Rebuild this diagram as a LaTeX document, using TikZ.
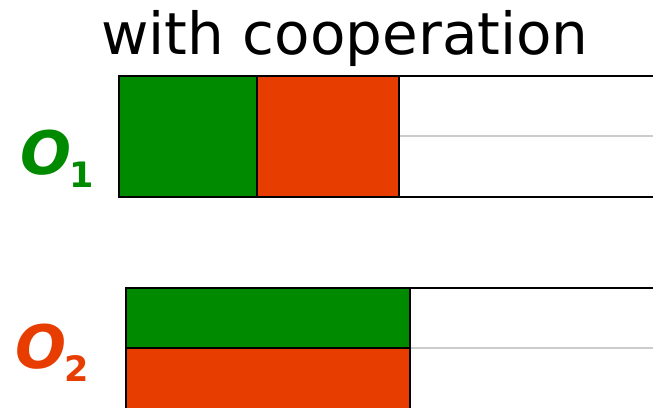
\documentclass[tikz,border=0pt]{standalone}
\usepackage{fontspec}
\setmainfont{DejaVu Sans}
\definecolor{ogreen}{RGB}{0,138,0}
\definecolor{ored}{RGB}{232,61,0}
% operator label: big slanted O with a lowered index
\newcommand{\oplabel}[1]{{\bfseries\itshape\fontsize{60}{60}\selectfont O}\kern-2pt\raisebox{-13pt}{\bfseries\fontsize{35}{35}\selectfont #1}}
\begin{document}
\begin{tikzpicture}[x=1pt,y=1pt,
                    frame/.style={draw=black,line width=2pt},
                    lane/.style={draw=black!20,line width=1.5pt},
                    tag/.style={anchor=base west,inner sep=0pt}
                   ]
   \useasboundingbox (0,0) rectangle (653,407);
   \clip (0,0) rectangle (653,407);
   \node[anchor=base,inner sep=0pt,font=\fontsize{58}{58}\selectfont] (title) at (345,352) {with cooperation};
   % first operator: tasks one after the other
   \node[tag,text=ogreen] (o1) at (20,232) {\oplabel{1}};
   \fill[ogreen] (119,331) rectangle (257,210);
   \fill[ored] (257,331) rectangle (399,210);
   \draw[lane] (399,271) -- (665,271);
   \draw[frame] (665,331) -- (119,331) -- (119,210) -- (665,210);
   \draw[frame] (257,331) -- (257,210);
   \draw[frame] (399,331) -- (399,210);
   % second operator: both tasks side by side
   \node[tag,text=ored] (o2) at (15,39) {\oplabel{2}};
   \fill[ogreen] (126,119) rectangle (410,59);
   \fill[ored] (126,59) rectangle (410,-10);
   \draw[lane] (410,59) -- (665,59);
   \draw[frame] (665,119) -- (126,119) -- (126,-10);
   \draw[frame] (126,59) -- (410,59);
   \draw[frame] (410,119) -- (410,-10);
\end{tikzpicture}
\end{document}
